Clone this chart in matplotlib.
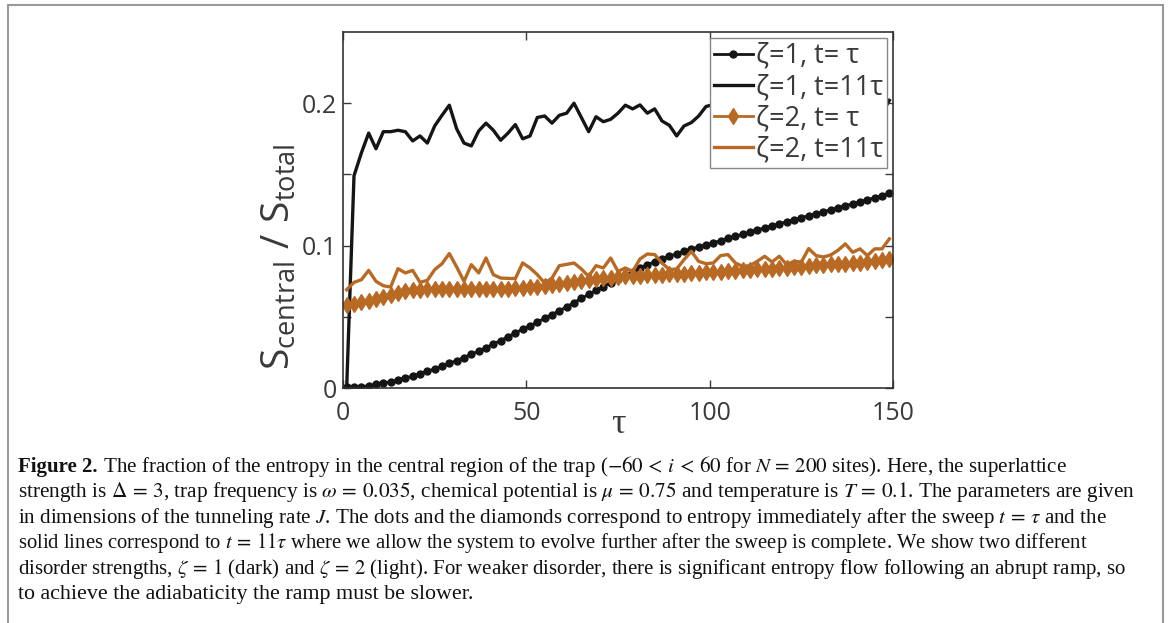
import numpy as np
import matplotlib
matplotlib.use("Agg")
import matplotlib.pyplot as plt
from matplotlib.patches import Rectangle

plt.rcParams['font.family'] = ['Open Sans', 'DejaVu Sans']
plt.rcParams['mathtext.fontset'] = 'custom'
plt.rcParams['mathtext.rm'] = 'Open Sans'
plt.rcParams['mathtext.it'] = 'Open Sans:italic'
plt.rcParams['mathtext.bf'] = 'Open Sans:bold'

# sweep times (every series sampled at the same tau values)
tau = np.arange(1, 150, 2)

# zeta=1, t=tau (dots)
z1_t1 = [0.0005, 0.0005, 0.0009, 0.0016, 0.0026, 0.0033, 0.0045, 0.0056, 0.0070, 0.0084,
         0.0101, 0.0117, 0.0134, 0.0153, 0.0174, 0.0192, 0.0214, 0.0237, 0.0260, 0.0283,
         0.0310, 0.0333, 0.0360, 0.0387, 0.0413, 0.0437, 0.0463, 0.0489, 0.0516, 0.0543,
         0.0570, 0.0600, 0.0629, 0.0657, 0.0685, 0.0712, 0.0740, 0.0767, 0.0793, 0.0818,
         0.0842, 0.0865, 0.0887, 0.0906, 0.0925, 0.0943, 0.0961, 0.0976, 0.0991, 0.1005,
         0.1020, 0.1035, 0.1050, 0.1065, 0.1080, 0.1095, 0.1110, 0.1124, 0.1139, 0.1153,
         0.1168, 0.1182, 0.1196, 0.1210, 0.1224, 0.1238, 0.1252, 0.1266, 0.1280, 0.1294,
         0.1308, 0.1322, 0.1336, 0.1350, 0.1370]

# zeta=1, t=11tau (solid)
z1_t11 = [0.0, 0.149, 0.165, 0.179, 0.168, 0.180, 0.180, 0.181, 0.180, 0.1735,
          0.177, 0.172, 0.184, 0.1915, 0.1986, 0.182, 0.172, 0.170, 0.1805, 0.186,
          0.181, 0.174, 0.179, 0.185, 0.175, 0.177, 0.190, 0.191, 0.186, 0.1915,
          0.193, 0.200, 0.190, 0.180, 0.1905, 0.187, 0.1887, 0.193, 0.1986, 0.196,
          0.1988, 0.193, 0.196, 0.1875, 0.1845, 0.177, 0.184, 0.1864, 0.191, 0.1977,
          0.199, 0.196, 0.192, 0.195, 0.199, 0.197, 0.193, 0.196, 0.200, 0.198,
          0.194, 0.197, 0.201, 0.199, 0.195, 0.198, 0.200, 0.196, 0.193, 0.197,
          0.200, 0.198, 0.195, 0.193, 0.202]

# zeta=2, t=tau (diamonds)
z2_t1 = [0.0582, 0.0592, 0.0601, 0.0610, 0.0624, 0.0640, 0.0655, 0.0668, 0.0678, 0.0685,
         0.0690, 0.0693, 0.0695, 0.0696, 0.0696, 0.0695, 0.0694, 0.0693, 0.0693, 0.0693,
         0.0694, 0.0695, 0.0697, 0.0700, 0.0703, 0.0707, 0.0712, 0.0717, 0.0723, 0.0729,
         0.0736, 0.0743, 0.0750, 0.0757, 0.0764, 0.0770, 0.0775, 0.0780, 0.0784, 0.0787,
         0.0790, 0.0792, 0.0794, 0.0796, 0.0798, 0.0800, 0.0803, 0.0806, 0.0809, 0.0812,
         0.0815, 0.0818, 0.0821, 0.0824, 0.0827, 0.0830, 0.0833, 0.0836, 0.0838, 0.0841,
         0.0846, 0.0849, 0.0853, 0.0857, 0.0861, 0.0864, 0.0868, 0.0871, 0.0874, 0.0877,
         0.0881, 0.0886, 0.0892, 0.0898, 0.0905]

# zeta=2, t=11tau (solid)
z2_t11 = [0.069, 0.0742, 0.076, 0.0826, 0.0749, 0.0718, 0.0709, 0.0838, 0.0808, 0.0826,
          0.0742, 0.0756, 0.0831, 0.0873, 0.0944, 0.085, 0.0749, 0.0866, 0.0808, 0.0913,
          0.0796, 0.0772, 0.077, 0.0768, 0.0878, 0.0843, 0.0796, 0.0737, 0.0772, 0.0859,
          0.0868, 0.0878, 0.0836, 0.0784, 0.0859, 0.0843, 0.0913, 0.0819, 0.0843, 0.0819,
          0.0906, 0.0941, 0.0937, 0.0878, 0.0831, 0.0836, 0.0901, 0.096, 0.0889, 0.0873,
          0.0878, 0.093, 0.0937, 0.0878, 0.0854, 0.0859, 0.089, 0.0925, 0.0885, 0.0925,
          0.0866, 0.089, 0.0885, 0.0979, 0.093, 0.092, 0.0934, 0.0967, 0.1012, 0.0953,
          0.0977, 0.093, 0.0977, 0.0977, 0.1047]

labels = ['ζ=1, t= τ', 'ζ=1, t=11τ', 'ζ=2, t= τ', 'ζ=2, t=11τ']
dark = '#151515'
light = '#b86a24'
grey = '#3a3a3a'

W, H = 1170, 623
fig = plt.figure(figsize=(W / 100, H / 100), dpi=100)

# grey frame round the figure + caption
fig.patches.append(Rectangle((8 / W, -0.02), 1155 / W, (H - 5) / H + 0.02,
                             transform=fig.transFigure, fill=False,
                             edgecolor='#9a9a9a', lw=1.5))

ax = fig.add_axes([343 / W, (H - 388) / H, 550 / W, 356 / H])
ax.plot(tau, z1_t1, '-o', color=dark, lw=2, ms=5, label=labels[0])
ax.plot(tau, z1_t11, '-', color=dark, lw=2.4, label=labels[1])
ax.plot(tau, z2_t1, '-d', color=light, lw=2, ms=8, label=labels[2])
ax.plot(tau, z2_t11, '-', color=light, lw=2.4, label=labels[3])

ax.set_xlim(0, 150)
ax.set_ylim(0, 0.25)
ax.set_xticks([0, 50, 100, 150])
ax.set_yticks([0, 0.05, 0.1, 0.15, 0.2])
ax.set_yticklabels(['0', '', '0.1', '', '0.2'])
ax.tick_params(direction='in', length=6, width=1, top=True, right=True,
               labelsize=18, colors=grey, pad=4)
ax.tick_params(axis='x', pad=9)
for s in ax.spines.values():
    s.set_color('#333333')
    s.set_linewidth(1.2)

ax.set_ylabel(r'$\mathrm{S}_{\mathrm{central}}\ /\ \mathrm{S}_{\mathrm{total}}$',
              fontsize=28, color=grey)
ax.yaxis.set_label_coords(-0.08, 0.37)
ax.set_xlabel('τ', fontsize=26, color=grey, family='Liberation Serif')
ax.xaxis.set_label_coords(0.5, -0.055)

leg = ax.legend(loc='upper right', bbox_to_anchor=(0.989, 0.983), borderaxespad=0,
                fontsize=19.5, fancybox=False, edgecolor='#888888', framealpha=1,
                handlelength=1.45, handletextpad=0.1, borderpad=0.15, labelspacing=0.12)
for t in leg.get_texts():
    t.set_color(grey)

# caption, each line sized to the width it has in the printed figure
cap = dict(family='Liberation Serif', fontsize=15, color='#111111', va='baseline')
lines = [
    r" The fraction of the entropy in the central region of the trap ($-60\, <\, i\, <\, 60$ for $N\,=\,200$ sites). Here, the superlattice",
    r"strength is $\Delta\,=\,3$, trap frequency is $\omega\,=\,0.035$, chemical potential is $\mu\,=\,0.75$ and temperature is $T\,=\,0.1$. The parameters are given",
    r"in dimensions of the tunneling rate $J$. The dots and the diamonds correspond to entropy immediately after the sweep $t\,=\,\tau$ and the",
    r"solid lines correspond to $t\,=\,11\tau$ where we allow the system to evolve further after the sweep is complete. We show two different",
    r"disorder strengths, $\zeta\,=\,1$ (dark) and $\zeta\,=\,2$ (light). For weaker disorder, there is significant entropy flow following an abrupt ramp, so",
    r"to achieve the adiabaticity the ramp must be slower.",
]
line_end = [1068, 1138, 1110, 1091, 1130, 476]
x0 = 18 / W
y0 = 472
r = fig.canvas.get_renderer()
bold = fig.text(x0, (H - y0) / H, 'Figure 2.', weight='bold', **cap)
bb = bold.get_window_extent(r)
for k, line in enumerate(lines):
    y = (H - (y0 + 25.4 * k)) / H
    xs = bb.x1 if k == 0 else 18
    t = fig.text(xs / W, y, line, math_fontfamily='stix', **cap)
    w = t.get_window_extent(r).width
    t.set_fontsize(15 * (line_end[k] - xs) / w)

fig.savefig('out.png', dpi=100, facecolor='white')
